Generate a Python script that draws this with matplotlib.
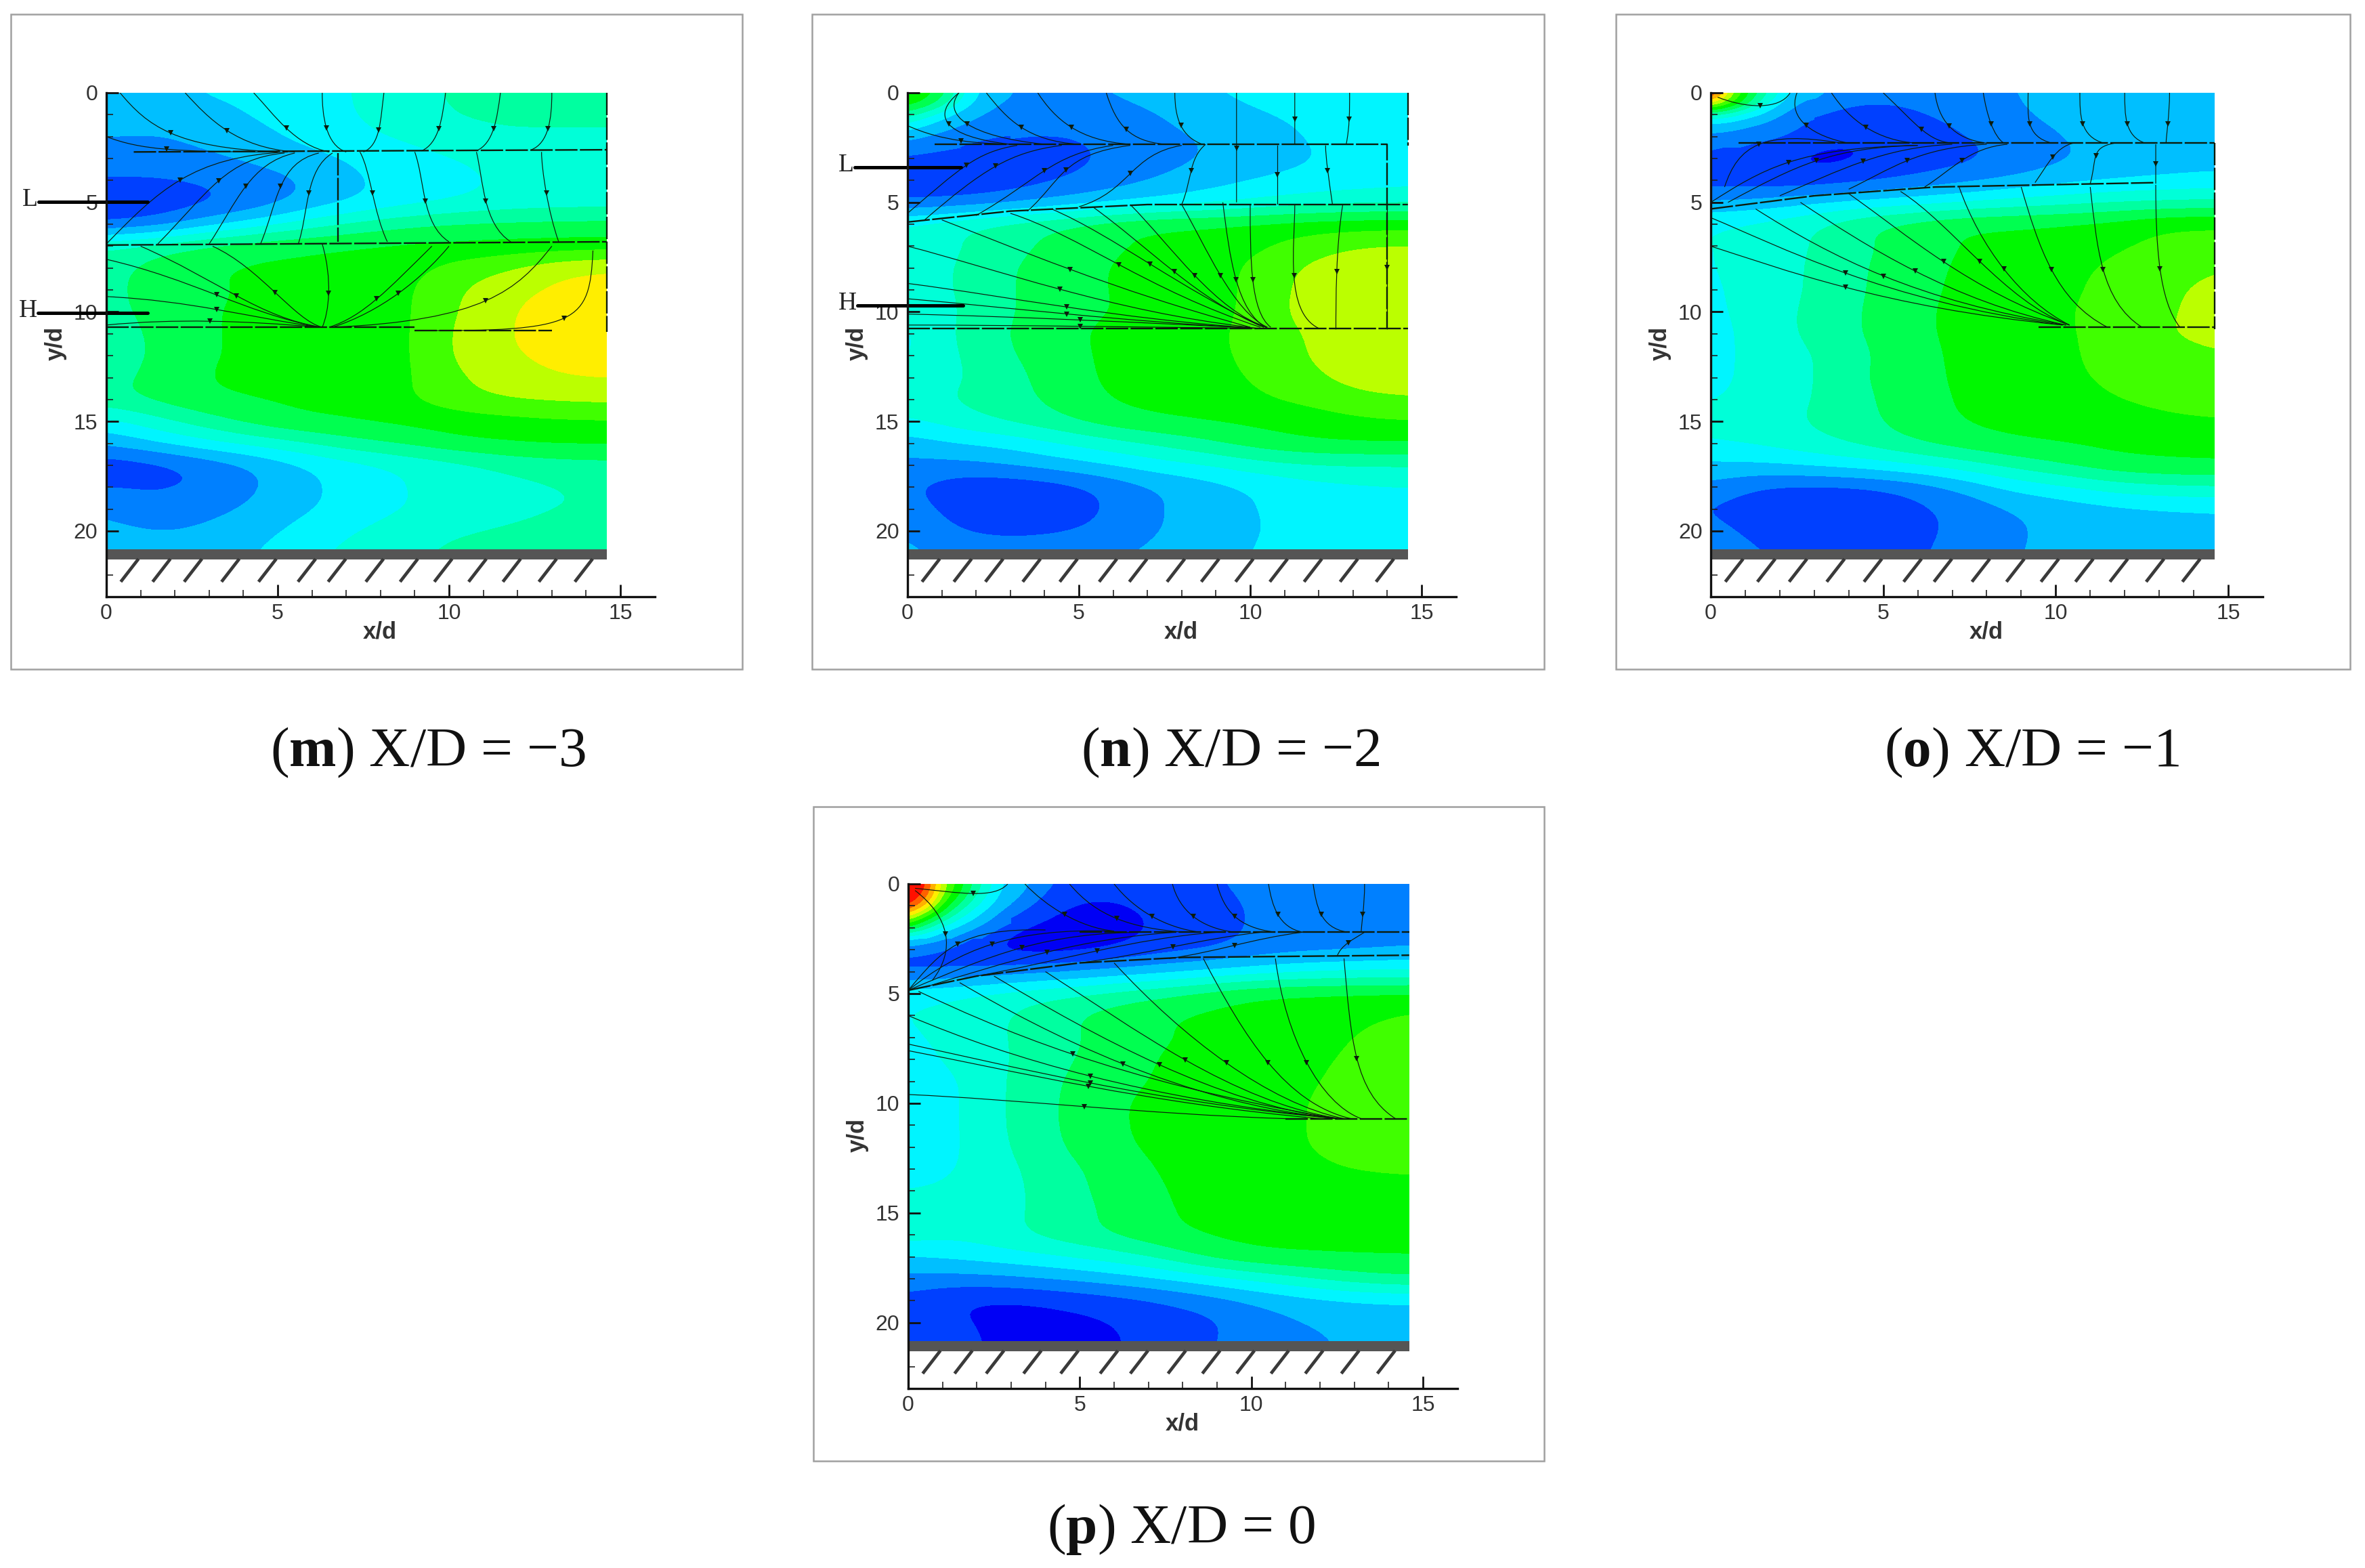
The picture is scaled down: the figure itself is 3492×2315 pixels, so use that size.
import numpy as np
import matplotlib
matplotlib.use('Agg')
import matplotlib.pyplot as plt
from matplotlib.colors import ListedColormap, BoundaryNorm
from matplotlib.patches import PathPatch, Rectangle
from matplotlib.path import Path

plt.rcParams['mathtext.fontset'] = 'custom'
plt.rcParams['mathtext.bf'] = 'Liberation Serif:bold'
plt.rcParams['mathtext.rm'] = 'Liberation Serif'

W, H = 3492, 2315

# contour band colours, one per level
band_colors = ['#0000f5', '#0040ff', '#0080ff', '#00bfff', '#00f5ff', '#00ffd8', '#00ffa0',
               '#00ff50', '#00f800', '#40ff00', '#bbff00', '#ffee00', '#ffb000', '#ff6000', '#ff1000']
band_levels = list(range(16))

# rows are y/d = 0..21, columns run evenly over x/d = 0..14.6
field_m = [
    [4.0, 3.5, 4.2, 4.5, 4.7, 5.0, 5.6, 6.2, 6.4, 6.4, 6.4],
    [3.6, 3.2, 3.3, 4.2, 4.6, 5.0, 5.5, 6.1, 6.2, 6.3, 6.3],
    [3.0, 3.0, 3.2, 3.6, 4.4, 4.8, 5.2, 5.6, 5.9, 5.8, 5.8],
    [2.6, 2.6, 2.9, 3.2, 3.6, 4.2, 4.6, 5.0, 5.3, 5.4, 5.4],
    [1.9, 1.9, 2.1, 2.6, 3.0, 3.9, 4.4, 4.8, 5.1, 5.2, 5.2],
    [1.2, 1.2, 1.7, 2.2, 3.2, 3.95, 4.5, 4.9, 5.3, 5.4, 5.5],
    [1.7, 2.2, 3.4, 4.4, 5.4, 6.2, 6.8, 7.1, 7.2, 7.3, 7.3],
    [6.0, 6.6, 7.3, 7.8, 8.0, 8.1, 8.2, 8.2, 8.3, 8.3, 8.4],
    [6.6, 7.4, 8.0, 8.1, 8.1, 8.3, 8.6, 9.4, 9.9, 10.8, 11.1],
    [6.7, 7.4, 7.9, 8.1, 8.1, 8.3, 8.8, 9.9, 10.7, 11.2, 11.4],
    [6.6, 7.4, 8.0, 8.1, 8.1, 8.3, 8.8, 10.0, 10.95, 11.4, 11.5],
    [6.2, 7.3, 8.0, 8.1, 8.2, 8.3, 8.8, 10.2, 11.0, 11.4, 11.6],
    [6.2, 7.2, 8.0, 8.1, 8.2, 8.3, 8.8, 10.2, 10.9, 11.3, 11.5],
    [6.5, 7.4, 8.1, 8.1, 8.2, 8.3, 8.8, 9.9, 10.5, 11.0, 11.1],
    [6.8, 7.3, 7.9, 8.1, 8.1, 8.2, 8.9, 9.7, 10.1, 10.2, 10.3],
    [4.6, 5.7, 6.6, 7.5, 8.05, 8.1, 8.2, 8.4, 8.6, 8.8, 8.85],
    [3.2, 4.0, 4.8, 5.4, 6.0, 6.8, 7.3, 7.9, 8.1, 8.2, 8.2],
    [1.2, 1.5, 2.2, 3.0, 4.0, 4.6, 5.1, 5.6, 6.2, 6.5, 6.6],
    [2.0, 1.9, 2.1, 2.9, 3.7, 4.5, 5.0, 5.4, 5.7, 5.95, 6.1],
    [2.9, 2.1, 2.7, 3.2, 3.9, 4.4, 5.0, 5.4, 5.8, 6.0, 6.1],
    [3.3, 3.0, 3.2, 3.6, 4.4, 5.0, 5.6, 5.95, 6.1, 6.2, 6.3],
    [3.8, 3.4, 3.4, 4.0, 4.8, 5.3, 5.85, 6.2, 6.3, 6.3, 6.3],
]
field_n = [
    [8.2, 4.5, 3.0, 2.5, 3.1, 3.5, 3.9, 4.4, 4.6, 4.6, 4.6],
    [5.5, 3.6, 2.7, 2.3, 2.4, 3.0, 3.4, 3.9, 4.3, 4.5, 4.6],
    [3.3, 2.7, 2.1, 2.0, 2.2, 2.8, 3.1, 3.4, 4.1, 4.4, 4.5],
    [1.8, 1.4, 1.2, 1.5, 2.1, 2.6, 3.0, 3.5, 3.9, 4.3, 4.5],
    [1.4, 1.2, 1.4, 1.9, 2.5, 3.0, 3.6, 4.0, 4.3, 4.5, 4.7],
    [1.8, 2.0, 2.5, 3.1, 3.6, 4.1, 4.5, 5.0, 5.4, 5.6, 5.6],
    [5.2, 5.9, 6.5, 7.0, 7.7, 8.1, 8.2, 8.3, 8.5, 8.6, 8.7],
    [5.3, 5.9, 6.6, 7.3, 7.95, 8.1, 8.3, 8.8, 9.5, 10.0, 10.1],
    [5.5, 6.0, 6.9, 7.6, 8.05, 8.2, 8.5, 9.3, 10.2, 10.7, 10.8],
    [5.5, 6.0, 6.9, 7.6, 8.05, 8.2, 8.5, 9.3, 10.4, 10.8, 10.9],
    [5.4, 5.9, 6.9, 7.6, 8.0, 8.2, 8.6, 9.3, 10.5, 10.9, 10.9],
    [4.6, 6.2, 7.0, 7.75, 8.2, 8.4, 8.8, 9.3, 10.1, 10.6, 10.7],
    [4.8, 6.0, 6.9, 7.6, 8.2, 8.4, 8.8, 9.2, 10.1, 10.5, 10.7],
    [5.0, 5.9, 6.6, 7.5, 8.2, 8.3, 8.7, 9.1, 9.8, 10.4, 10.5],
    [5.7, 6.1, 6.6, 7.3, 8.1, 8.2, 8.4, 8.9, 9.3, 9.8, 10.0],
    [4.8, 5.6, 6.2, 6.8, 7.6, 8.0, 8.1, 8.2, 8.4, 8.8, 8.95],
    [3.5, 4.0, 4.3, 5.0, 5.6, 6.2, 6.9, 7.6, 8.0, 8.1, 8.1],
    [2.7, 2.7, 3.0, 3.5, 4.0, 4.6, 5.0, 5.6, 5.9, 6.0, 6.0],
    [2.2, 1.3, 1.2, 1.5, 2.2, 3.0, 3.5, 4.1, 4.6, 4.8, 4.9],
    [2.6, 1.5, 1.1, 1.1, 2.1, 2.9, 3.6, 4.0, 4.4, 4.6, 4.7],
    [2.9, 2.0, 1.8, 1.9, 2.3, 3.0, 3.4, 4.0, 4.3, 4.5, 4.6],
    [3.4, 2.5, 2.5, 2.6, 2.9, 3.2, 3.6, 4.1, 4.4, 4.5, 4.6],
]
field_o = [
    [15.5, 6.5, 3.3, 2.5, 2.4, 2.5, 3.0, 3.4, 3.5, 3.5, 3.5],
    [5.5, 2.7, 2.1, 1.4, 1.9, 2.4, 2.8, 3.4, 3.5, 3.5, 3.5],
    [2.4, 1.9, 1.3, 1.1, 1.2, 2.0, 2.4, 3.0, 3.5, 3.6, 3.6],
    [1.9, 1.4, 0.7, 0.85, 1.3, 1.7, 2.2, 2.9, 3.2, 3.4, 3.5],
    [1.4, 1.2, 1.2, 1.6, 2.1, 2.6, 3.1, 3.6, 3.9, 4.1, 4.3],
    [3.0, 3.3, 3.8, 4.2, 4.5, 4.9, 5.3, 5.6, 5.9, 6.0, 6.1],
    [5.0, 5.3, 5.9, 6.9, 7.5, 8.0, 8.1, 8.2, 8.4, 9.05, 9.1],
    [4.9, 5.4, 6.0, 6.8, 7.5, 8.1, 8.2, 8.4, 8.9, 9.2, 9.3],
    [4.9, 5.4, 6.1, 6.9, 7.7, 8.15, 8.3, 8.7, 9.2, 9.5, 10.0],
    [4.8, 5.4, 6.1, 6.9, 7.8, 8.15, 8.3, 8.8, 9.3, 9.8, 10.3],
    [4.7, 5.5, 6.2, 7.0, 7.85, 8.2, 8.4, 8.95, 9.3, 9.9, 10.3],
    [4.5, 5.5, 6.2, 7.0, 7.85, 8.2, 8.4, 8.9, 9.3, 10.0, 10.3],
    [4.6, 5.4, 5.9, 6.8, 7.7, 8.2, 8.4, 8.85, 9.3, 9.6, 9.95],
    [4.7, 5.3, 5.9, 6.9, 7.8, 8.1, 8.4, 8.8, 9.2, 9.4, 9.5],
    [4.9, 5.3, 6.0, 6.7, 7.7, 8.1, 8.3, 8.6, 9.0, 9.3, 9.4],
    [5.2, 5.6, 6.1, 6.7, 7.5, 8.1, 8.2, 8.3, 8.5, 8.8, 9.0],
    [5.0, 5.2, 5.7, 6.3, 7.0, 7.6, 8.0, 8.1, 8.2, 8.2, 8.2],
    [3.8, 3.9, 4.2, 4.5, 5.0, 5.6, 6.4, 7.1, 7.8, 8.0, 8.1],
    [2.8, 1.9, 1.8, 1.9, 2.3, 3.2, 4.3, 4.8, 5.5, 5.8, 5.9],
    [1.9, 1.3, 0.6, 0.9, 1.7, 2.3, 3.0, 3.4, 3.7, 3.9, 4.0],
    [2.5, 1.5, 1.4, 1.5, 1.6, 2.3, 2.9, 3.2, 3.4, 3.5, 3.6],
    [2.9, 2.0, 1.7, 1.6, 1.8, 2.4, 3.0, 3.2, 3.4, 3.5, 3.6],
]
field_p = [
    [15.5, 9.0, 4.0, 1.7, 1.2, 1.4, 1.9, 2.3, 2.5, 2.5, 2.5],
    [13.0, 6.0, 3.0, 0.9, 0.9, 1.2, 1.6, 2.2, 2.4, 2.5, 2.5],
    [7.5, 3.5, 1.0, 0.6, 0.5, 1.1, 1.5, 2.2, 2.4, 2.5, 2.6],
    [2.0, 1.4, 0.5, 0.4, 0.8, 1.5, 1.8, 2.4, 2.6, 2.7, 2.9],
    [1.6, 1.9, 2.4, 2.8, 3.2, 3.6, 4.0, 4.4, 4.8, 5.0, 5.1],
    [4.7, 5.0, 5.4, 5.8, 6.3, 6.8, 7.5, 8.1, 8.2, 8.2, 8.2],
    [5.0, 5.3, 6.0, 6.8, 7.4, 7.95, 8.2, 8.3, 8.5, 8.8, 9.2],
    [4.8, 5.4, 6.0, 6.7, 7.3, 7.9, 8.2, 8.4, 8.6, 9.1, 9.3],
    [4.4, 5.4, 5.9, 6.8, 7.4, 8.1, 8.3, 8.5, 8.8, 9.2, 9.4],
    [4.2, 4.9, 6.1, 6.95, 7.7, 8.1, 8.3, 8.6, 8.9, 9.3, 9.5],
    [4.2, 4.9, 6.1, 7.0, 7.9, 8.2, 8.4, 8.7, 9.0, 9.4, 9.5],
    [4.2, 4.9, 6.1, 7.0, 7.9, 8.2, 8.4, 8.7, 9.0, 9.4, 9.5],
    [4.2, 4.9, 6.0, 6.9, 7.8, 8.2, 8.4, 8.7, 9.0, 9.4, 9.5],
    [4.3, 5.0, 5.8, 6.6, 7.4, 8.1, 8.3, 8.5, 8.8, 9.1, 9.2],
    [5.0, 5.3, 5.7, 6.5, 7.3, 8.0, 8.2, 8.3, 8.5, 8.5, 8.6],
    [5.8, 5.5, 5.7, 6.5, 7.1, 8.0, 8.1, 8.1, 8.2, 8.2, 8.2],
    [5.6, 5.2, 5.8, 6.5, 7.1, 7.8, 8.2, 8.2, 8.2, 8.2, 8.2],
    [3.9, 4.3, 4.6, 5.0, 5.5, 6.2, 7.4, 8.0, 8.1, 8.1, 8.1],
    [2.7, 2.6, 2.8, 3.1, 3.5, 4.0, 4.6, 5.3, 6.0, 6.7, 7.0],
    [1.6, 0.9, 0.8, 1.1, 1.5, 1.9, 2.5, 3.1, 3.6, 3.9, 4.0],
    [1.7, 1.1, 0.7, 0.7, 0.9, 1.4, 1.7, 2.6, 3.0, 3.2, 3.3],
    [2.0, 1.3, 0.7, 0.7, 0.8, 1.4, 1.9, 2.6, 2.9, 3.1, 3.2],
]

# finer readings of the jet corner: rows y/d = 0..2.5, columns x/d = 0..3, half a unit apart
corner_n = [
    [9.0, 8.5, 7.5, 5.5, 4.2, 3.3, 3.0],
    [8.5, 7.8, 6.5, 4.8, 3.8, 3.1, 2.9],
    [6.5, 5.5, 4.5, 3.7, 3.1, 2.8, 2.7],
    [4.6, 4.0, 3.4, 3.0, 2.7, 2.5, 2.3],
    [3.3, 3.0, 2.7, 2.5, 2.3, 2.1, 2.0],
    [2.5, 2.3, 2.1, 1.9, 1.7, 1.5, 1.35],
]
corner_o = [
    [15.0, 11.0, 8.5, 6.5, 5.0, 3.5, 3.3],
    [11.0, 9.5, 7.5, 5.5, 4.0, 3.0, 2.7],
    [6.0, 5.5, 4.5, 3.8, 3.0, 2.5, 2.1],
    [3.5, 3.4, 3.1, 2.8, 2.5, 2.2, 1.7],
    [2.8, 2.7, 2.5, 2.3, 2.1, 1.7, 1.3],
    [2.15, 2.0, 1.85, 1.65, 1.4, 1.2, 1.05],
]
corner_p = [
    [15.5, 14.5, 10.5, 8.5, 6.5, 4.8, 3.4],
    [15.0, 14.0, 10.0, 8.0, 6.0, 4.4, 3.2],
    [14.5, 12.0, 8.8, 6.8, 5.0, 3.8, 2.8],
    [11.0, 9.0, 7.0, 5.2, 4.0, 3.0, 2.2],
    [8.0, 6.5, 4.8, 3.8, 3.0, 2.3, 1.7],
    [4.0, 3.6, 3.0, 2.5, 2.0, 1.5, 1.0],
]

# streamlines as cubic curves: x0, y0, cx1, cy1, cx2, cy2, x1, y1
curves_m = [
    (0.4, 0, 1.2, 1.5, 2, 2.5, 5, 2.7), (0, 2, 1, 2.6, 2, 2.7, 5, 2.7),
    (2.3, 0, 3, 1.2, 3.8, 2.5, 5.5, 2.7), (4.3, 0, 4.9, 1, 5.5, 2.4, 6.5, 2.7),
    (6.3, 0, 6.3, 1, 6.4, 2.4, 7, 2.7), (8.1, 0, 8, 1.2, 8, 2.4, 7.5, 2.7),
    (9.9, 0, 9.8, 1.2, 9.7, 2.3, 9.2, 2.65), (11.5, 0, 11.4, 1.2, 11.3, 2.3, 10.8, 2.65),
    (13, 0, 13, 1.2, 12.9, 2.3, 12.4, 2.6), (0, 6.9, 1.5, 4.5, 2.5, 2.9, 5.3, 2.7),
    (1.5, 6.9, 3, 4.5, 3.5, 3, 5.2, 2.75), (3, 6.9, 3.8, 5, 4.2, 3.2, 5.5, 2.75),
    (4.5, 6.9, 5, 5, 5, 3.2, 6.2, 2.75), (5.6, 6.9, 5.9, 5.5, 5.8, 3.5, 6.6, 2.75),
    (8.2, 6.8, 7.8, 5.5, 7.7, 3.5, 7.4, 2.7), (10, 6.8, 9.2, 6, 9.3, 4, 9, 2.7),
    (11.8, 6.8, 11, 6, 11, 4, 10.8, 2.7), (13.2, 6.8, 12.9, 5.5, 12.7, 3.5, 12.7, 2.7),
    (0, 7.6, 2.5, 8.5, 4, 10, 6.2, 10.7), (0, 9.3, 2.5, 9.5, 4, 10.2, 6.2, 10.7),
    (0, 10.6, 2, 10.3, 4, 10.4, 6.2, 10.7), (1, 7, 3.2, 8.5, 4.5, 10.3, 6.3, 10.7),
    (3.1, 7, 4.5, 8, 5.5, 10.4, 6.3, 10.7), (6.3, 6.9, 6.6, 8.5, 6.5, 10, 6.3, 10.7),
    (9.5, 7, 8.2, 9, 7.5, 10.2, 6.5, 10.7), (10, 7, 9.2, 8.5, 8, 10, 6.6, 10.7),
    (13, 7, 12, 9, 11, 10.4, 6.6, 10.7), (14.2, 7.2, 14.1, 10.5, 13.8, 10.9, 9, 10.85),
]
curves_n = [
    (0, 1.5, 1, 2.2, 2, 2.35, 3.5, 2.35), (1.5, 0, 0.7, 1, 1, 2, 3, 2.35),
    (1.5, 0, 1, 1, 1.8, 2, 4, 2.35), (2.3, 0, 2.9, 1.2, 3.5, 2.2, 5, 2.35),
    (3.8, 0, 4.3, 1.2, 5, 2.2, 6.5, 2.35), (5.8, 0, 6.1, 1.5, 6.5, 2.2, 7.5, 2.35),
    (7.8, 0, 7.8, 1.2, 8, 2, 8.6, 2.35), (9.6, 0, 9.6, 1.7, 9.6, 3.4, 9.6, 5),
    (11.3, 0, 11.3, 0.8, 11.3, 1.6, 11.3, 2.35), (12.9, 0, 12.9, 0.8, 12.9, 1.6, 12.8, 2.35),
    (10.8, 2.4, 10.8, 3.3, 10.8, 4.2, 10.8, 5.1), (0, 5.5, 1.5, 3.5, 2, 2.7, 3.2, 2.4),
    (0.5, 5.8, 2.2, 3.5, 3, 2.7, 4.5, 2.4), (2, 5.6, 3.8, 4, 4.2, 2.8, 6, 2.4),
    (3.5, 5.4, 4.5, 4, 4.5, 2.8, 6.5, 2.4), (5, 5.2, 6.5, 4.5, 6.5, 2.8, 8, 2.4),
    (8, 5.1, 8.3, 4, 8.2, 3, 8.7, 2.35), (12.4, 5.1, 12.3, 4, 12.2, 3, 12.2, 2.4),
    (1, 5.8, 3, 7, 6, 9, 10, 10.7), (0, 7, 2.5, 8, 6, 10, 10, 10.7),
    (0, 8.7, 3, 9.3, 6, 10.3, 10.2, 10.75), (0, 9.4, 3, 9.8, 6, 10.4, 10.2, 10.75),
    (0, 10.1, 3, 10.2, 7, 10.5, 10.3, 10.75), (0, 10.6, 3, 10.6, 7, 10.7, 10.3, 10.75),
    (3, 5.5, 5, 6.5, 7, 9, 10.3, 10.7), (4.2, 5.3, 6, 6.5, 8, 9, 10.4, 10.7),
    (5.4, 5.2, 7, 7, 8.5, 9.5, 10.4, 10.7), (6.5, 5.1, 7.7, 7, 9, 10, 10.5, 10.7),
    (8, 5.1, 8.7, 7, 9.5, 10, 10.5, 10.7), (9.2, 5, 9.4, 7.5, 9.6, 10, 10.5, 10.75),
    (10, 5.1, 10, 7.5, 10, 10, 10.6, 10.7), (11.3, 5.1, 11.3, 7, 11, 10, 12, 10.75),
    (12.7, 5.1, 12.5, 7, 12.5, 9.5, 12.5, 10.8), (14, 5.1, 14, 7, 14, 9, 14, 10.8),
]
curves_o = [
    (2.3, 0, 2, 0.8, 1, 0.7, 0.2, 0.2), (2.5, 0, 2.2, 1.2, 3, 2, 4, 2.3),
    (3.5, 0, 4, 1.2, 4.8, 2.2, 6, 2.3), (5, 0, 6, 1.5, 6.3, 2.2, 7, 2.3),
    (6.5, 0, 6.6, 1.2, 7, 2.1, 8, 2.3), (7.9, 0, 8, 1, 8.2, 2, 8.5, 2.3),
    (9.2, 0, 9.2, 1, 9.1, 2, 9.9, 2.3), (10.7, 0, 10.7, 1, 10.7, 2, 11.4, 2.3),
    (12, 0, 12, 1, 12, 2, 12.6, 2.3), (13.3, 0, 13.3, 1, 13.2, 2, 13.2, 2.3),
    (0.4, 4.3, 0.8, 2.4, 1.5, 1.7, 3.8, 2.3), (0, 5, 1.5, 3.5, 2.5, 2.5, 6, 2.4),
    (0.5, 5, 2.5, 3.3, 3.5, 2.5, 6, 2.4), (2, 4.7, 3.8, 3.5, 5, 2.5, 7, 2.35),
    (4, 4.4, 5.2, 3.5, 6, 2.5, 8, 2.35), (6.2, 4.3, 7, 3.5, 7.5, 2.5, 8.6, 2.35),
    (9.4, 4.1, 9.8, 3.2, 10, 2.5, 10.5, 2.3), (11, 4.15, 11.2, 3, 11, 2.5, 11.7, 2.3),
    (12.9, 4.15, 12.9, 3.5, 12.9, 3, 12.9, 2.35), (0, 5.7, 2, 7, 5, 9.5, 10.2, 10.6),
    (0, 7, 2, 8, 5, 9.8, 10.2, 10.6), (1.3, 5.3, 3.5, 7.5, 6, 9.5, 10.3, 10.6),
    (2.6, 5, 4.5, 7, 7, 9.5, 10.3, 10.6), (4, 4.6, 5.7, 6.5, 7.5, 9, 10.4, 10.6),
    (5.5, 4.5, 7, 6, 8.5, 9.5, 10.4, 10.6), (7.2, 4.3, 7.8, 7, 9, 9.5, 10.4, 10.6),
    (9, 4.3, 9.5, 7, 10, 9.5, 11.5, 10.7), (11, 4.3, 11.2, 7, 11.3, 9.5, 12.5, 10.7),
    (12.9, 4.2, 12.9, 7, 13, 9.5, 13.6, 10.7),
]
curves_p = [
    (2.9, 0, 2.5, 0.7, 1.5, 0.4, 0.2, 0.2), (3.4, 0, 4, 1, 5, 2, 6, 2.15),
    (4.7, 0, 5.5, 1.5, 6.5, 2, 8, 2.2), (6, 0, 6.6, 1.2, 7.5, 2, 8.5, 2.2),
    (7.7, 0, 7.9, 1.2, 8.5, 2, 9.5, 2.2), (9, 0, 9.2, 1.2, 9.6, 2, 10.7, 2.2),
    (10.5, 0, 10.6, 1, 10.8, 2, 11.5, 2.2), (11.8, 0, 11.9, 1, 12, 2, 12.8, 2.2),
    (13.3, 0, 13.3, 1, 13.2, 2, 13.2, 2.2), (0.2, 0.3, 1.2, 1.5, 1.4, 3, 0.7, 4.4),
    (0, 4.85, 1, 3, 1.5, 2, 4, 2.1), (0, 4.85, 1.5, 3, 3, 2, 6, 2.15),
    (0, 4.85, 2.5, 3.2, 4, 2.2, 7, 2.2), (0.5, 4.7, 3, 3.5, 5, 2.5, 7.8, 2.2),
    (2, 4.2, 4.5, 3.5, 6.5, 2.5, 9, 2.2), (5, 3.6, 7, 3.2, 8.5, 2.5, 10.3, 2.2),
    (7.6, 3.4, 9, 3.1, 10, 2.5, 11.5, 2.2), (12.5, 3.3, 12.6, 2.8, 13, 2.5, 13.3, 2.2),
    (0, 6, 3, 8, 7, 9.8, 12.5, 10.7), (0, 7.3, 3, 8.3, 7, 9.9, 12.5, 10.7),
    (0, 7.6, 3, 8.5, 7, 10, 12, 10.7), (0, 9.6, 3, 9.8, 7, 10.5, 11, 10.7),
    (0.3, 4.9, 2.5, 6.5, 6, 9, 12.5, 10.7), (1.5, 4.5, 4, 6.8, 8, 10, 12.5, 10.7),
    (2.5, 4.2, 5.5, 7, 9, 10, 12.5, 10.7), (4, 4, 6.5, 6.5, 9.5, 10, 12.6, 10.7),
    (6, 3.6, 8, 7, 10.5, 10, 12.7, 10.7), (8.6, 3.4, 9.8, 7, 11, 10, 12.9, 10.7),
    (10.7, 3.4, 11, 7, 12, 10, 13.2, 10.7), (12.7, 3.4, 12.9, 7, 13, 9.5, 14.2, 10.7),
]

# heavier separating lines: lists of x, y
seps_m = [([0.8, 14.6], [2.7, 2.6]), ([0, 14.6], [6.95, 6.8]), ([0, 9], [10.7, 10.7]),
          ([9, 13], [10.85, 10.85]), ([6.75, 6.75], [2.75, 6.8]), ([14.6, 14.6], [0, 10.9])]
seps_n = [([0.8, 14, 14], [2.35, 2.35, 10.8]), ([0, 3, 7, 14.6], [5.9, 5.4, 5.1, 5.1]),
          ([0, 14.6], [10.75, 10.75]), ([14.6, 14.6], [0, 2.4])]
seps_o = [([0.8, 14.6], [2.3, 2.3]), ([0, 3, 6.5, 12.9], [5.3, 4.7, 4.3, 4.1]),
          ([9.5, 14.6], [10.7, 10.7]), ([14.6, 14.6], [2.3, 10.8])]
seps_p = [([5, 14.6], [2.2, 2.2]), ([0, 2, 5, 8, 14.6], [4.85, 4.2, 3.6, 3.35, 3.25]),
          ([11, 14.6], [10.7, 10.7])]

# L / H probe markers: letter, line start x, line end x, y
probes_m = [('L', -1.98, 1.2, 4.97), ('H', -2.0, 1.2, 10.05)]
probes_n = [('L', -1.54, 1.57, 3.41), ('H', -1.47, 1.63, 9.71)]
probes_o = []
probes_p = []

captions = [('m', ' X/D = \u22123'), ('n', ' X/D = \u22122'), ('o', ' X/D = \u22121'), ('p', ' X/D = 0')]
hatch_starts = [0.45, 1.38, 2.3, 3.39, 4.47, 5.62, 6.5, 7.6, 8.6, 9.6, 10.6, 11.6, 12.65, 13.7]
x_ticks = [0, 5, 10, 15]
y_ticks = [0, 5, 10, 15, 20]

# pixel layout of each panel: frame box, x=0, x=15, y=0, y=23, caption centre
layouts = [
    dict(frame=(16, 21, 1096, 988), x0=157, x15=916, y0=137, y23=881, cap=(632, 1111)),
    dict(frame=(1199, 21, 2280, 988), x0=1340, x15=2099, y0=137, y23=881, cap=(1817, 1111)),
    dict(frame=(2386, 21, 3470, 988), x0=2526, x15=3290, y0=137, y23=881, cap=(3000, 1111)),
    dict(frame=(1201, 1191, 2280, 2157), x0=1341, x15=2101, y0=1305, y23=2050, cap=(1744, 2258)),
]

fig = plt.figure(figsize=(W / 100, H / 100), dpi=100, facecolor='white')
cmap = ListedColormap(band_colors)
norm = BoundaryNorm(band_levels, cmap.N)
text_col = '#333333'
line_col = '#0c1c0c'


def draw_panel(layout, field, corner, curves, seps, probes, caption):
    x0, x15, y0, y23 = layout['x0'], layout['x15'], layout['y0'], layout['y23']
    x_end = x0 + (x15 - x0) / 15 * 16

    # outer grey frame
    fl, ft, fr, fb = layout['frame']
    fig.add_artist(Rectangle((fl / W, 1 - fb / H), (fr - fl) / W, (fb - ft) / H, transform=fig.transFigure,
                             fill=False, edgecolor='#a0a0a0', linewidth=1.8))

    ax = fig.add_axes([x0 / W, 1 - y23 / H, (x_end - x0) / W, (y23 - y0) / H])
    ax.patch.set_alpha(0)

    # contour bands
    dx = 14.6 / 10
    im = ax.imshow(np.array(field), cmap=cmap, norm=norm, aspect='auto', origin='upper',
                   extent=(-dx / 2, 14.6 + dx / 2, 21.5, -0.5),
                   interpolation='bicubic', interpolation_stage='data', zorder=1)
    im.set_clip_path(Rectangle((0, 0), 14.6, 20.85, transform=ax.transData))
    if corner is not None:
        jet = ax.imshow(np.array(corner), cmap=cmap, norm=norm, aspect='auto', origin='upper',
                        extent=(-0.25, 3.25, 2.75, -0.25),
                        interpolation='bicubic', interpolation_stage='data', zorder=1.5)
        jet.set_clip_path(Rectangle((0, 0), 3.0, 2.5, transform=ax.transData))

    # streamlines and their arrow heads
    codes = [Path.MOVETO, Path.CURVE4, Path.CURVE4, Path.CURVE4]
    for c in curves:
        pts = np.array(c).reshape(4, 2)
        ax.add_patch(PathPatch(Path(pts, codes), fill=False, edgecolor=line_col, linewidth=0.85, zorder=3))
        mid = (pts[0] + 3 * pts[1] + 3 * pts[2] + pts[3]) / 8
        ax.plot(mid[0], mid[1], marker='v', ms=6, color=line_col, mew=0, zorder=4)
    for xs, ys in seps:
        ax.plot(xs, ys, color=line_col, linewidth=1.7, linestyle=(0, (14, 1.5)), zorder=3, clip_on=False)

    # wall and hatching
    ax.add_patch(Rectangle((0, 20.85), 14.6, 0.45, facecolor='#555555', edgecolor='none', zorder=2))
    for hx in hatch_starts:
        ax.plot([hx, hx + 0.46], [22.26, 21.33], color='#3a3a3a', linewidth=3.4, zorder=2)

    for letter, xa, xb, yp in probes:
        ax.plot([xa, xb], [yp, yp], color='black', linewidth=3.6, zorder=5, clip_on=False,
                solid_capstyle='round')
        ax.text(xa - 0.02, yp - 0.1, letter, family='Liberation Serif', fontsize=27, color='#222222',
                ha='right', va='center', zorder=5)

    ax.set_xlim(0, 16)
    ax.set_ylim(23, 0)
    for side in ['top', 'right']:
        ax.spines[side].set_visible(False)
    for side in ['left', 'bottom']:
        ax.spines[side].set_linewidth(2.4)
        ax.spines[side].set_color('#111111')
        ax.spines[side].set_zorder(6)
    ax.set_xticks(x_ticks)
    ax.set_yticks(y_ticks)
    ax.set_xticks(range(0, 16), minor=True)
    ax.set_yticks(range(0, 23), minor=True)
    ax.tick_params(which='major', direction='in', length=13, width=2.0, color='#111111', labelsize=23,
                   labelcolor=text_col, labelfontfamily='Liberation Sans')
    ax.tick_params(axis='x', which='major', pad=7)
    ax.tick_params(axis='y', which='major', pad=9)
    ax.tick_params(which='minor', direction='in', length=7, width=1.2, color='#222222')
    ax.set_xlabel('x/d', family='Liberation Sans', fontweight='bold', fontsize=25, color=text_col, va='center')
    ax.xaxis.set_label_coords(0.499, -0.07)
    ax.set_ylabel('y/d', family='Liberation Sans', fontweight='bold', fontsize=25, color=text_col)
    ax.yaxis.set_label_coords(-0.072, 1 - 11.45 / 23)

    # caption: bold letter between plain brackets
    cx, cy = layout['cap']
    letter, rest = caption
    fig.text(cx / W, 1 - cy / H, '(' + r'$\mathbf{' + letter + '}$' + ')' + rest,
             family='Liberation Serif', fontsize=60, color='#111111', ha='center', va='center')


draw_panel(layouts[0], field_m, None, curves_m, seps_m, probes_m, captions[0])
draw_panel(layouts[1], field_n, corner_n, curves_n, seps_n, probes_n, captions[1])
draw_panel(layouts[2], field_o, corner_o, curves_o, seps_o, probes_o, captions[2])
draw_panel(layouts[3], field_p, corner_p, curves_p, seps_p, probes_p, captions[3])

fig.savefig('out.png', dpi=100, facecolor='white')
